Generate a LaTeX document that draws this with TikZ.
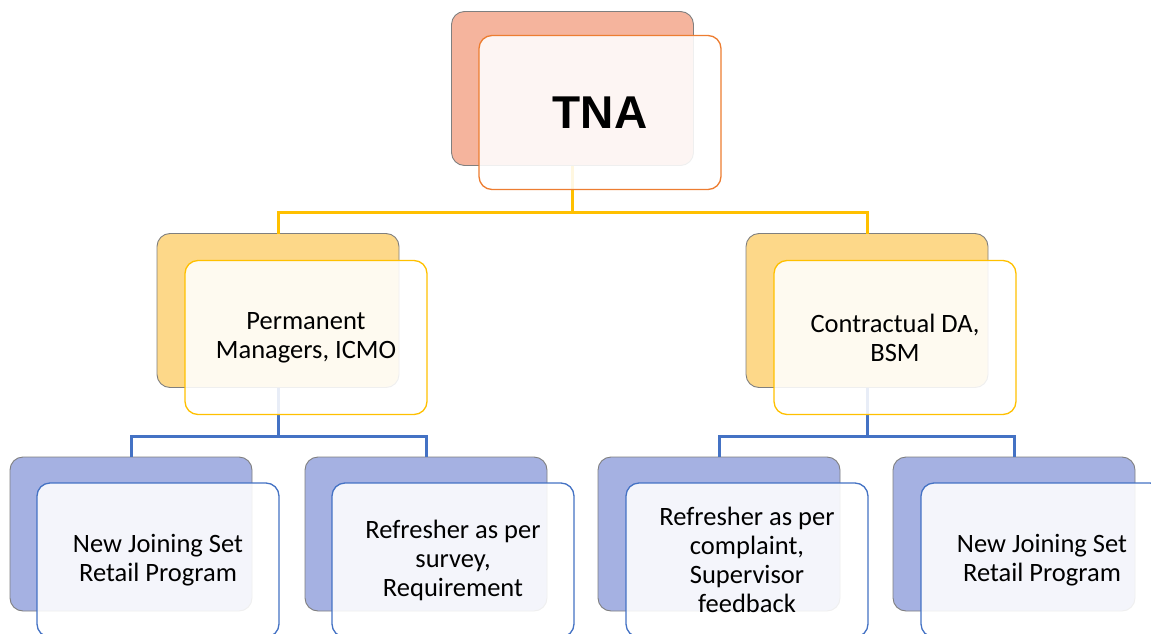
\documentclass[tikz,border=0pt]{standalone}
\usepackage{fontspec}
\usetikzlibrary{calc}
\setmainfont{Carlito}
\newfontfamily\tnafont{Liberation Sans}
\definecolor{salmonB}{HTML}{F5B49D}
\definecolor{orangeL}{HTML}{ED7D31}
\definecolor{yellowB}{HTML}{FDD889}
\definecolor{yellowL}{HTML}{FFC000}
\definecolor{blueB}{HTML}{A5B1E2}
\definecolor{blueL}{HTML}{4472C4}
\definecolor{edgeG}{HTML}{7F7F7F}
\begin{document}
\begin{tikzpicture}[x=1pt,y=-1pt,
  box/.style={rectangle, rounded corners=13pt, minimum width=242pt, minimum height=154pt, outer sep=0pt, inner sep=0pt},
  backbox/.style={box, draw=edgeG, line width=0.9pt},
  frontbox/.style={box, fill=white, fill opacity=0.88, text opacity=1, line width=1.3pt, align=center, text=black},
  conn/.style={line width=3pt},
  lvtwo/.style={font=\fontsize{26.5}{29}\selectfont},
  lvthree/.style={font=\fontsize{26.5}{29}\selectfont}
]
\useasboundingbox (0,0) rectangle (1151,634);
% named coordinates for bus lines
\coordinate (busA) at (0,212);
\coordinate (busB) at (0,436);
% back boxes positions (centers)
\path (572.5,88.5) coordinate (pTNA)
      (278,310.5) coordinate (pPM)
      (867,310.5) coordinate (pCD)
      (131,534) coordinate (pC1)
      (426,534) coordinate (pC2)
      (719,534) coordinate (pC3)
      (1014,534) coordinate (pC4);
% back boxes
\node[backbox, fill=salmonB] (tnaB) at (pTNA) {};
\node[backbox, fill=yellowB] (pmB) at (pPM) {};
\node[backbox, fill=yellowB] (cdB) at (pCD) {};
\node[backbox, fill=blueB] (c1B) at (pC1) {};
\node[backbox, fill=blueB] (c2B) at (pC2) {};
\node[backbox, fill=blueB] (c3B) at (pC3) {};
\node[backbox, fill=blueB] (c4B) at (pC4) {};
% connectors (drawn below front boxes)
\draw[conn, yellowL] (tnaB.south) -- (tnaB.south |- busA) -| (pmB.north);
\draw[conn, yellowL] (tnaB.south |- busA) -| (cdB.north);
\draw[conn, blueL] (pmB.south) -- (pmB.south |- busB) -| (c1B.north);
\draw[conn, blueL] (pmB.south |- busB) -| (c2B.north);
\draw[conn, blueL] (cdB.south) -- (cdB.south |- busB) -| (c3B.north);
\draw[conn, blueL] (cdB.south |- busB) -| (c4B.north);
% front boxes
\node[frontbox, draw=orangeL, font=\tnafont\bfseries\fontsize{46}{50}\selectfont] (tna) at ($(pTNA)+(27.5,24)$) {TNA};
\node[frontbox, draw=yellowL, lvtwo] (pm) at ($(pPM)+(28,27)$) {\raisebox{-2pt}{\parbox{230pt}{\centering Permanent\\Managers, ICMO}}};
\node[frontbox, draw=yellowL, lvtwo] (cd) at ($(pCD)+(28,27)$) {\raisebox{-2pt}{\parbox{230pt}{\centering Contractual DA,\\BSM}}};
\node[frontbox, draw=blueL, lvthree] (c1) at ($(pC1)+(27,26)$) {New Joining Set\\Retail Program};
\node[frontbox, draw=blueL, lvthree] (c2) at ($(pC2)+(27,26)$) {Refresher as per\\survey,\\Requirement};
\node[frontbox, draw=blueL, lvthree] (c3) at ($(pC3)+(28,26)$) {Refresher as per\\complaint,\\Supervisor\\feedback};
\node[frontbox, draw=blueL, lvthree] (c4) at ($(pC4)+(28,26)$) {New Joining Set\\Retail Program};
\end{tikzpicture}
\end{document}
